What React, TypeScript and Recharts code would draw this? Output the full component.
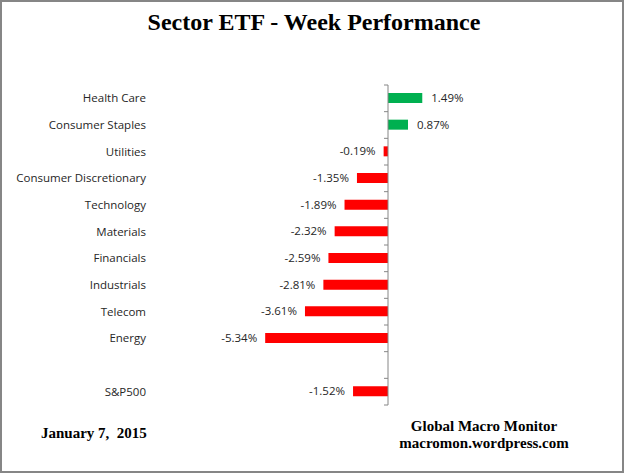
import React from "react"
import { Bar, BarChart, Cell, LabelList, ReferenceLine, XAxis, YAxis } from "recharts"

const sectors = [
  "Health Care",
  "Consumer Staples",
  "Utilities",
  "Consumer Discretionary",
  "Technology",
  "Materials",
  "Financials",
  "Industrials",
  "Telecom",
  "Energy",
  "",
  "S&P500",
]

const weekChange = [1.49, 0.87, -0.19, -1.35, -1.89, -2.32, -2.59, -2.81, -3.61, -5.34, null, -1.52]

const data = sectors.map((name, i) => ({ name: name || " ", value: weekChange[i] }))

const labelFont = "'Open Sans', 'Noto Sans', sans-serif"
const serif = "'Liberation Serif', 'Times New Roman', serif"

function ValueLabel(props: any) {
  const { x, y, width, height, value } = props
  if (value == null) return null
  const left = Math.min(x, x + width)
  const right = Math.max(x, x + width)
  const pos = value >= 0
  return (
    <text
      x={pos ? right + 9 : left - 8}
      y={y + height / 2}
      dy="0.35em"
      textAnchor={pos ? "start" : "end"}
      fontSize={11.5}
      fontFamily={labelFont}
      fill="#262626"
    >
      {value.toFixed(2) + "%"}
    </text>
  )
}

// zero axis with small ticks between categories, like the excel original
function ZeroAxis(props: any) {
  const { x1, y1, y2 } = props
  const n = sectors.length
  const step = (y2 - y1) / n
  const ticks = []
  for (let i = 0; i <= n; i++) {
    const ty = y1 + step * i
    ticks.push(<line key={i} x1={x1 - 4} x2={x1} y1={ty} y2={ty} stroke="#868686" strokeWidth={1} />)
  }
  return (
    <g>
      <line x1={x1} x2={x1} y1={y1} y2={y2} stroke="#868686" strokeWidth={1} />
      {ticks}
    </g>
  )
}

export default function App() {
  return (
    <div
      style={{
        position: "absolute",
        left: 0,
        top: 0,
        width: 625,
        height: 475,
        background: "#fff",
      }}
    >
      <div
        style={{
          position: "absolute",
          left: 0,
          top: 0,
          width: 624,
          height: 473,
          boxSizing: "border-box",
          border: "2px solid #868686",
        }}
      />
      <div
        style={{
          position: "absolute",
          left: 0,
          width: 628,
          top: 9,
          textAlign: "center",
          fontFamily: serif,
          fontWeight: "bold",
          fontSize: 24,
          color: "#000",
        }}
      >
        Sector ETF - Week Performance
      </div>
      <div style={{ position: "absolute", left: 0, top: 0 }}>
        <BarChart
          width={625}
          height={475}
          data={data}
          layout="vertical"
          margin={{ top: 85, right: 76, bottom: 70, left: 0 }}
          barCategoryGap={0}
        >
          <XAxis type="number" domain={[-10, 7]} hide />
          <YAxis
            type="category"
            dataKey="name"
            width={158}
            axisLine={false}
            tickLine={false}
            tickSize={0}
            tickMargin={12}
            interval={0}
            tick={{ fontSize: 11.5, fontFamily: labelFont, fill: "#262626" }}
          />
          <Bar dataKey="value" barSize={10} isAnimationActive={false}>
            {data.map((d, i) => (
              <Cell key={i} fill={(d.value ?? 0) >= 0 ? "#00B050" : "#FF0000"} />
            ))}
            <LabelList dataKey="value" content={<ValueLabel />} />
          </Bar>
          <ReferenceLine x={0} shape={<ZeroAxis />} />
        </BarChart>
      </div>
      <div
        style={{
          position: "absolute",
          left: 41,
          top: 425,
          fontFamily: serif,
          fontWeight: "bold",
          fontSize: 15,
          whiteSpace: "pre",
        }}
      >
        {"January 7,  2015"}
      </div>
      <div
        style={{
          position: "absolute",
          left: 384,
          width: 200,
          top: 418,
          textAlign: "center",
          fontFamily: serif,
          fontWeight: "bold",
          fontSize: 15,
          lineHeight: "17px",
        }}
      >
        Global Macro Monitor
        <br />
        macromon.wordpress.com
      </div>
    </div>
  )
}
